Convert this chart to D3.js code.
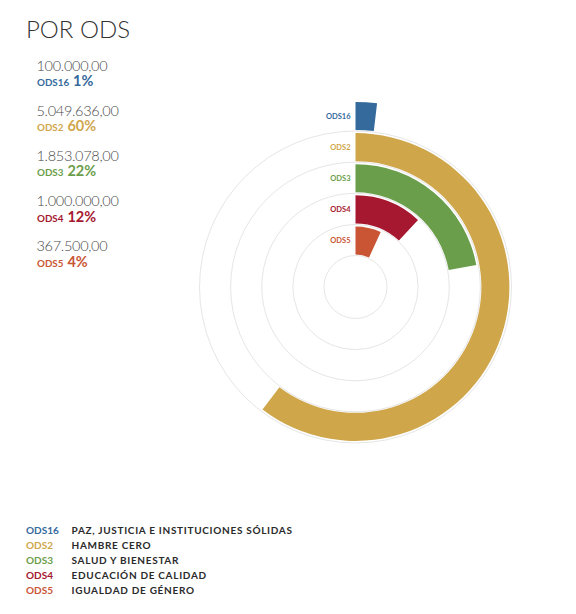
<!DOCTYPE html>
<html>
<head>
<meta charset="utf-8">
<script src="https://cdn.jsdelivr.net/npm/d3@7"></script>
<style>
  body { margin: 0; background: #fff; }
  text { font-family: Lato, "Open Sans", sans-serif; }
</style>
</head>
<body>
<svg id="chart"></svg>
<script>
// data
const title = "POR ODS";
const codes = ["ODS16", "ODS2", "ODS3", "ODS4", "ODS5"];
const names = ["PAZ, JUSTICIA E INSTITUCIONES SÓLIDAS", "HAMBRE CERO", "SALUD Y BIENESTAR", "EDUCACIÓN DE CALIDAD", "IGUALDAD DE GÉNERO"];
const amounts = [100000, 5049636, 1853078, 1000000, 367500];
const colors = ["#356a9c", "#d0a64b", "#6b9e4b", "#a5182f", "#c95535"];

const W = 576, H = 614;
const cx = 355.5, cy = 287;

const svg = d3.select("#chart").attr("width", W).attr("height", H);
svg.append("rect").attr("width", W).attr("height", H).attr("fill", "#fff");

const rows = codes.map((c, i) => ({code: c, name: names[i], amount: amounts[i], color: colors[i]}));
const total = d3.sum(amounts);

const es = d3.formatLocale({decimal: ",", thousands: ".", grouping: [3], currency: ["", ""]});
const fmtAmount = es.format(",.2f");
const fmtPct = v => Math.round(v / total * 100) + "%";

// title
svg.append("text")
  .attr("x", 26).attr("y", 38)
  .attr("font-size", 24).attr("font-weight", 300)
  .attr("fill", "#333")
  .text(title);

// left list
const list = svg.append("g");
rows.forEach((d, i) => {
  const y = 70.5 + i * 45.2;
  list.append("text")
    .attr("x", 36.5).attr("y", y)
    .attr("font-size", 14.5).attr("font-weight", 300)
    .attr("fill", "#4a4a4a").attr("letter-spacing", -0.3)
    .text(fmtAmount(d.amount));
  const t = list.append("text")
    .attr("x", 37).attr("y", y + 15.5)
    .attr("fill", d.color).attr("font-weight", 700);
  t.append("tspan").attr("font-size", 9.8).text(d.code);
  t.append("tspan").attr("dx", 4).attr("font-size", 14.5).text(fmtPct(d.amount));
});

// radial bars
const radius = d3.scaleBand()
  .domain(codes.slice().reverse())
  .range([32.5, 185])
  .paddingInner(0.1);
const bw = radius.bandwidth();
const angle = d3.scaleLinear().domain([0, total]).range([0, 2 * Math.PI]);
const minArc = 20; // smallest visible arc length, px

const g = svg.append("g").attr("transform", `translate(${cx},${cy})`);

g.selectAll("circle.track")
  .data(rows)
  .join("circle")
  .attr("class", "track")
  .attr("r", d => radius(d.code) - 1)
  .attr("fill", "none")
  .attr("stroke", "#e6e6e6")
  .attr("stroke-width", 1);

const arc = d3.arc()
  .innerRadius(d => radius(d.code))
  .outerRadius(d => radius(d.code) + bw)
  .startAngle(0)
  .endAngle(d => Math.max(angle(d.amount), minArc / (radius(d.code) + bw / 2)));

g.selectAll("path.bar")
  .data(rows)
  .join("path")
  .attr("class", "bar")
  .attr("d", arc)
  .attr("fill", d => d.color);

g.selectAll("text.lbl")
  .data(rows)
  .join("text")
  .attr("class", "lbl")
  .attr("x", -5)
  .attr("y", d => -(radius(d.code) + bw / 2))
  .attr("dy", "0.35em")
  .attr("text-anchor", "end")
  .attr("font-size", 7.5).attr("font-weight", 700)
  .attr("fill", d => d.color)
  .text(d => d.code);

// bottom legend
const leg = svg.append("g");
rows.forEach((d, i) => {
  const y = 533.7 + i * 15;
  leg.append("text")
    .attr("x", 26).attr("y", y)
    .attr("font-size", 10).attr("font-weight", 700)
    .attr("fill", d.color)
    .text(d.code);
  leg.append("text")
    .attr("x", 71.5).attr("y", y)
    .attr("font-size", 10).attr("font-weight", 700)
    .attr("letter-spacing", 0.7)
    .attr("fill", "#2a2a2a")
    .text(d.name);
});
</script>
</body>
</html>
